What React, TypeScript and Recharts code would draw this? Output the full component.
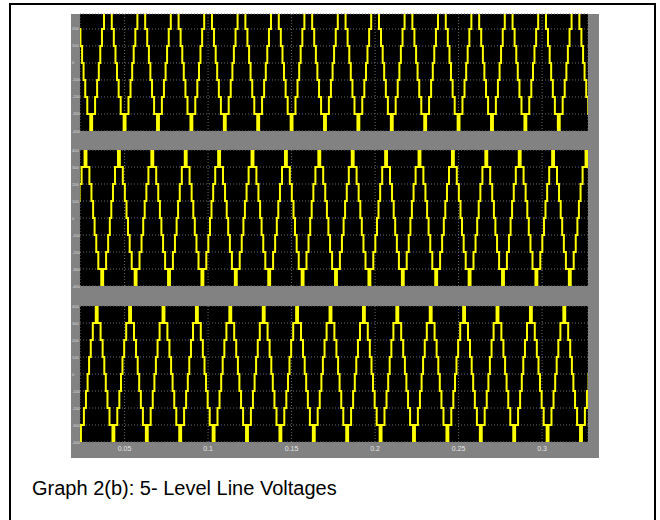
import React from "react";
import { LineChart, Line, XAxis, YAxis, CartesianGrid } from "recharts";

// time axis (s) and voltage axis (V)
const TIME_DOMAIN: [number, number] = [0.0233, 0.3275];
const TIME_TICKS = [0.05, 0.1, 0.15, 0.2, 0.25, 0.3];
const VOLT_TICKS = [-400, -300, -200, -100, 0, 100, 200, 300, 400];
const PERIOD = 0.02; // 50 Hz

// one cycle of the 9-step line voltage, starting at the negative peak
const STEP_START_DEG = [-180, -170, -138, -116, -98, -82, -64, -42, -10, 10, 42, 64, 82, 98, 116, 138, 170];
const STEP_LEVEL_V = [-400, -300, -200, -100, 0, 100, 200, 300, 400, 300, 200, 100, 0, -100, -200, -300, -400];

// time of the first positive peak for Vab, Vbc, Vca
const PEAK_TIMES = [0.04, 0.0266, 0.0333];

type Pt = { t: number; v: number };

function buildTrace(peak: number): Pt[] {
  const pts: Pt[] = [];
  for (let c = -2; c < 20; c++) {
    const base = peak + c * PERIOD;
    STEP_START_DEG.forEach((deg, i) => {
      const t = base + (deg / 360) * PERIOD;
      if (t > TIME_DOMAIN[0] - PERIOD && t < TIME_DOMAIN[1] + PERIOD) {
        pts.push({ t, v: STEP_LEVEL_V[i] });
      }
    });
  }
  return pts;
}

// small scope-style voltage labels, left aligned in the grey margin
function VoltTick(props: any) {
  const { y, payload } = props;
  return (
    <text
      x={1}
      y={y}
      dy={1.5}
      fontSize={4}
      fill="#dcdcdc"
      fontFamily="Arial"
      textAnchor="start"
    >
      {payload.value}
    </text>
  );
}

interface ScopeProps {
  peak: number;
  top: number;
  height: number;
  vMax: number;
  showTime?: boolean;
}

const PAD = 3; // room above/below the plot so edge labels are not clipped

function Scope({ peak, top, height, vMax, showTime = false }: ScopeProps) {
  const data = buildTrace(peak);
  const axisH = showTime ? 16 : 0;
  const bottomPad = showTime ? 0 : PAD;
  return (
    <div style={{ position: "absolute", left: 71, top: top - PAD }}>
      <LineChart
        width={517}
        height={height + axisH + PAD + bottomPad}
        data={data}
        margin={{ top: PAD, right: 0, left: 0, bottom: bottomPad }}
      >
        <CartesianGrid
          stroke="#6a6a6a"
          strokeDasharray="1 2"
          fill="#000"
          fillOpacity={1}
        />
        <XAxis
          type="number"
          dataKey="t"
          domain={TIME_DOMAIN}
          ticks={TIME_TICKS}
          interval={0}
          allowDataOverflow
          hide={!showTime}
          height={axisH}
          axisLine={false}
          tickLine={false}
          tickMargin={0}
          tick={{ fontSize: 7, fill: "#e6e6e6", fontFamily: "Arial", dy: -2 }}
        />
        <YAxis
          type="number"
          domain={[-400, vMax]}
          ticks={VOLT_TICKS.filter((v) => v <= vMax)}
          interval={0}
          allowDataOverflow
          width={9}
          axisLine={false}
          tickLine={false}
          tick={<VoltTick />}
        />
        <Line
          type="stepAfter"
          dataKey="v"
          stroke="#ffff00"
          strokeWidth={2}
          dot={false}
          isAnimationActive={false}
        />
      </LineChart>
    </div>
  );
}

export default function App() {
  return (
    <div
      style={{
        position: "absolute",
        left: 0,
        top: 0,
        width: 660,
        height: 520,
        overflow: "hidden",
        background: "#fff",
      }}
    >
      <div
        style={{
          position: "absolute",
          left: 9,
          top: 3,
          width: 643,
          height: 520,
          borderTop: "2px solid #000",
          borderLeft: "2px solid #000",
          borderRight: "2px solid #000",
        }}
      />
      <div
        style={{
          position: "absolute",
          left: 71,
          top: 14,
          width: 528,
          height: 444,
          background: "#828282",
        }}
      />
      <Scope peak={PEAK_TIMES[0]} top={14} height={117} vMax={288} />
      <Scope peak={PEAK_TIMES[1]} top={150} height={136} vMax={400} />
      <Scope peak={PEAK_TIMES[2]} top={306} height={136} vMax={400} showTime />
      <div
        style={{
          position: "absolute",
          left: 32,
          top: 478,
          fontFamily: "Arial, 'Liberation Sans', sans-serif",
          fontSize: 20,
          lineHeight: "20px",
          color: "#000",
          whiteSpace: "nowrap",
        }}
      >
        Graph 2(b): 5- Level Line Voltages
      </div>
    </div>
  );
}
